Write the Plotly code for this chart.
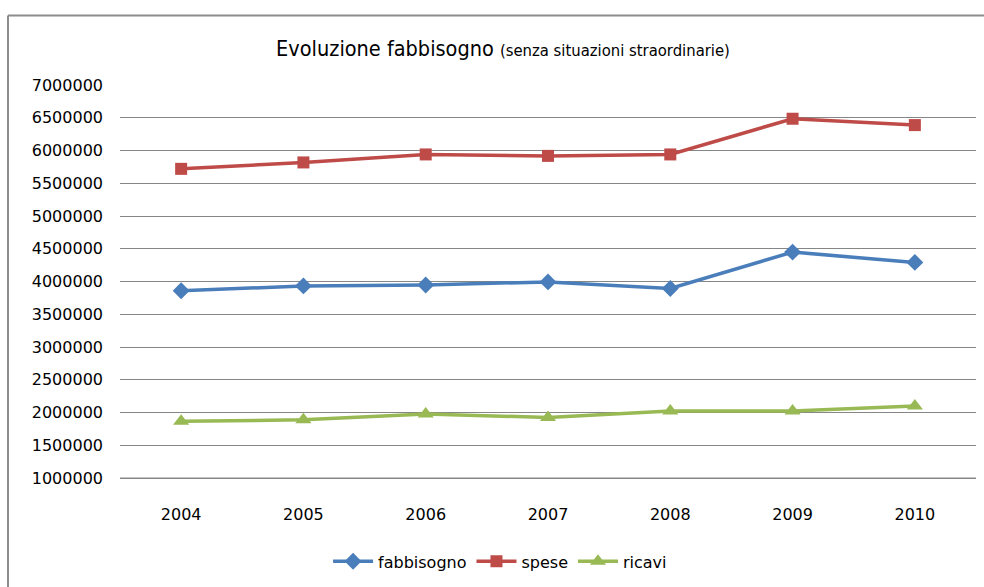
import plotly.graph_objects as go

anni = ["2004", "2005", "2006", "2007", "2008", "2009", "2010"]
fabbisogno = [3858000, 3933000, 3948000, 3994000, 3894000, 4449000, 4292000]
spese = [5720000, 5818000, 5940000, 5918000, 5940000, 6485000, 6388000]
ricavi = [1868000, 1888000, 1979000, 1924000, 2024000, 2024000, 2100000]
y_ticks = list(range(1000000, 7000001, 500000))

FONT = "DejaVu Sans"
TFONT = "DejaVu Sans Condensed, DejaVu Sans"

# plot area: top 85px, bottom 487px; 1000000 sits 6px above the bottom edge
PLOT_TOP, PLOT_BOTTOM = 85, 487
PLOT_H = PLOT_BOTTOM - PLOT_TOP
y_min = 1000000 - 6 / 396 * 6000000

def py(pix):
    return (PLOT_BOTTOM - pix) / PLOT_H

fig = go.Figure()
fig.add_trace(go.Scatter(x=anni, y=fabbisogno, name="fabbisogno", mode="lines+markers",
                         line=dict(color="#4A7EBB", width=3.5),
                         marker=dict(symbol="diamond", size=13, color="#4A7EBB")))
fig.add_trace(go.Scatter(x=anni, y=spese, name="spese", mode="lines+markers",
                         line=dict(color="#BE4B48", width=3.5),
                         marker=dict(symbol="square", size=12, color="#BE4B48")))
fig.add_trace(go.Scatter(x=anni, y=ricavi, name="ricavi", mode="lines+markers",
                         line=dict(color="#98B954", width=3.5),
                         marker=dict(symbol="triangle-up", size=14, color="#98B954")))

fig.update_layout(
    width=984, height=587,
    margin=dict(l=120, r=8, t=PLOT_TOP, b=587 - PLOT_BOTTOM),
    paper_bgcolor="white", plot_bgcolor="white",
    font=dict(family=FONT, size=16, color="#000000"),
    title=dict(
        text="Evoluzione fabbisogno <span style='font-size:16.5px'>(senza situazioni straordinarie)</span>",
        font=dict(family=TFONT, size=21.5, color="#000000"),
        x=503 / 984, xanchor="center", xref="container",
        y=1 - 48 / 587, yanchor="middle", yref="container",
    ),
    xaxis=dict(type="category", range=[-0.5, 6.5], showgrid=False, showline=False,
               zeroline=False, ticks="", ticklabelstandoff=19,
               tickfont=dict(family=FONT, size=16, color="#000000")),
    yaxis=dict(range=[y_min, 7000000], tickvals=y_ticks, tickformat="d",
               showgrid=True, gridcolor="#868686", gridwidth=1, zeroline=False,
               showline=False, ticks="", ticklabelstandoff=16,
               tickfont=dict(family=FONT, size=16, color="#000000")),
    legend=dict(orientation="h", x=0.444, xanchor="center", y=py(565), yanchor="middle",
                font=dict(family=FONT, size=16, color="#000000"), itemwidth=40),
    showlegend=True,
)

# bottom gridline (first tick) drawn explicitly as well
fig.add_shape(type="line", xref="x domain", yref="y", x0=0, x1=1, y0=y_ticks[0], y1=y_ticks[0],
              line=dict(color="#868686", width=1), layer="above")

fig.add_shape(type="line", xref="paper", yref="paper",
              x0=(8 - 120) / 856, x1=(8 - 120) / 856, y0=py(15), y1=-0.4,
              line=dict(color="#8C8C8C", width=2))
fig.add_shape(type="line", xref="paper", yref="paper",
              x0=(8 - 120) / 856, x1=1.05, y0=py(15), y1=py(15),
              line=dict(color="#8C8C8C", width=2))

fig.write_html("out.html", config={"displayModeBar": False},
               post_script="document.body.style.margin='0';document.body.style.overflow='hidden';")
